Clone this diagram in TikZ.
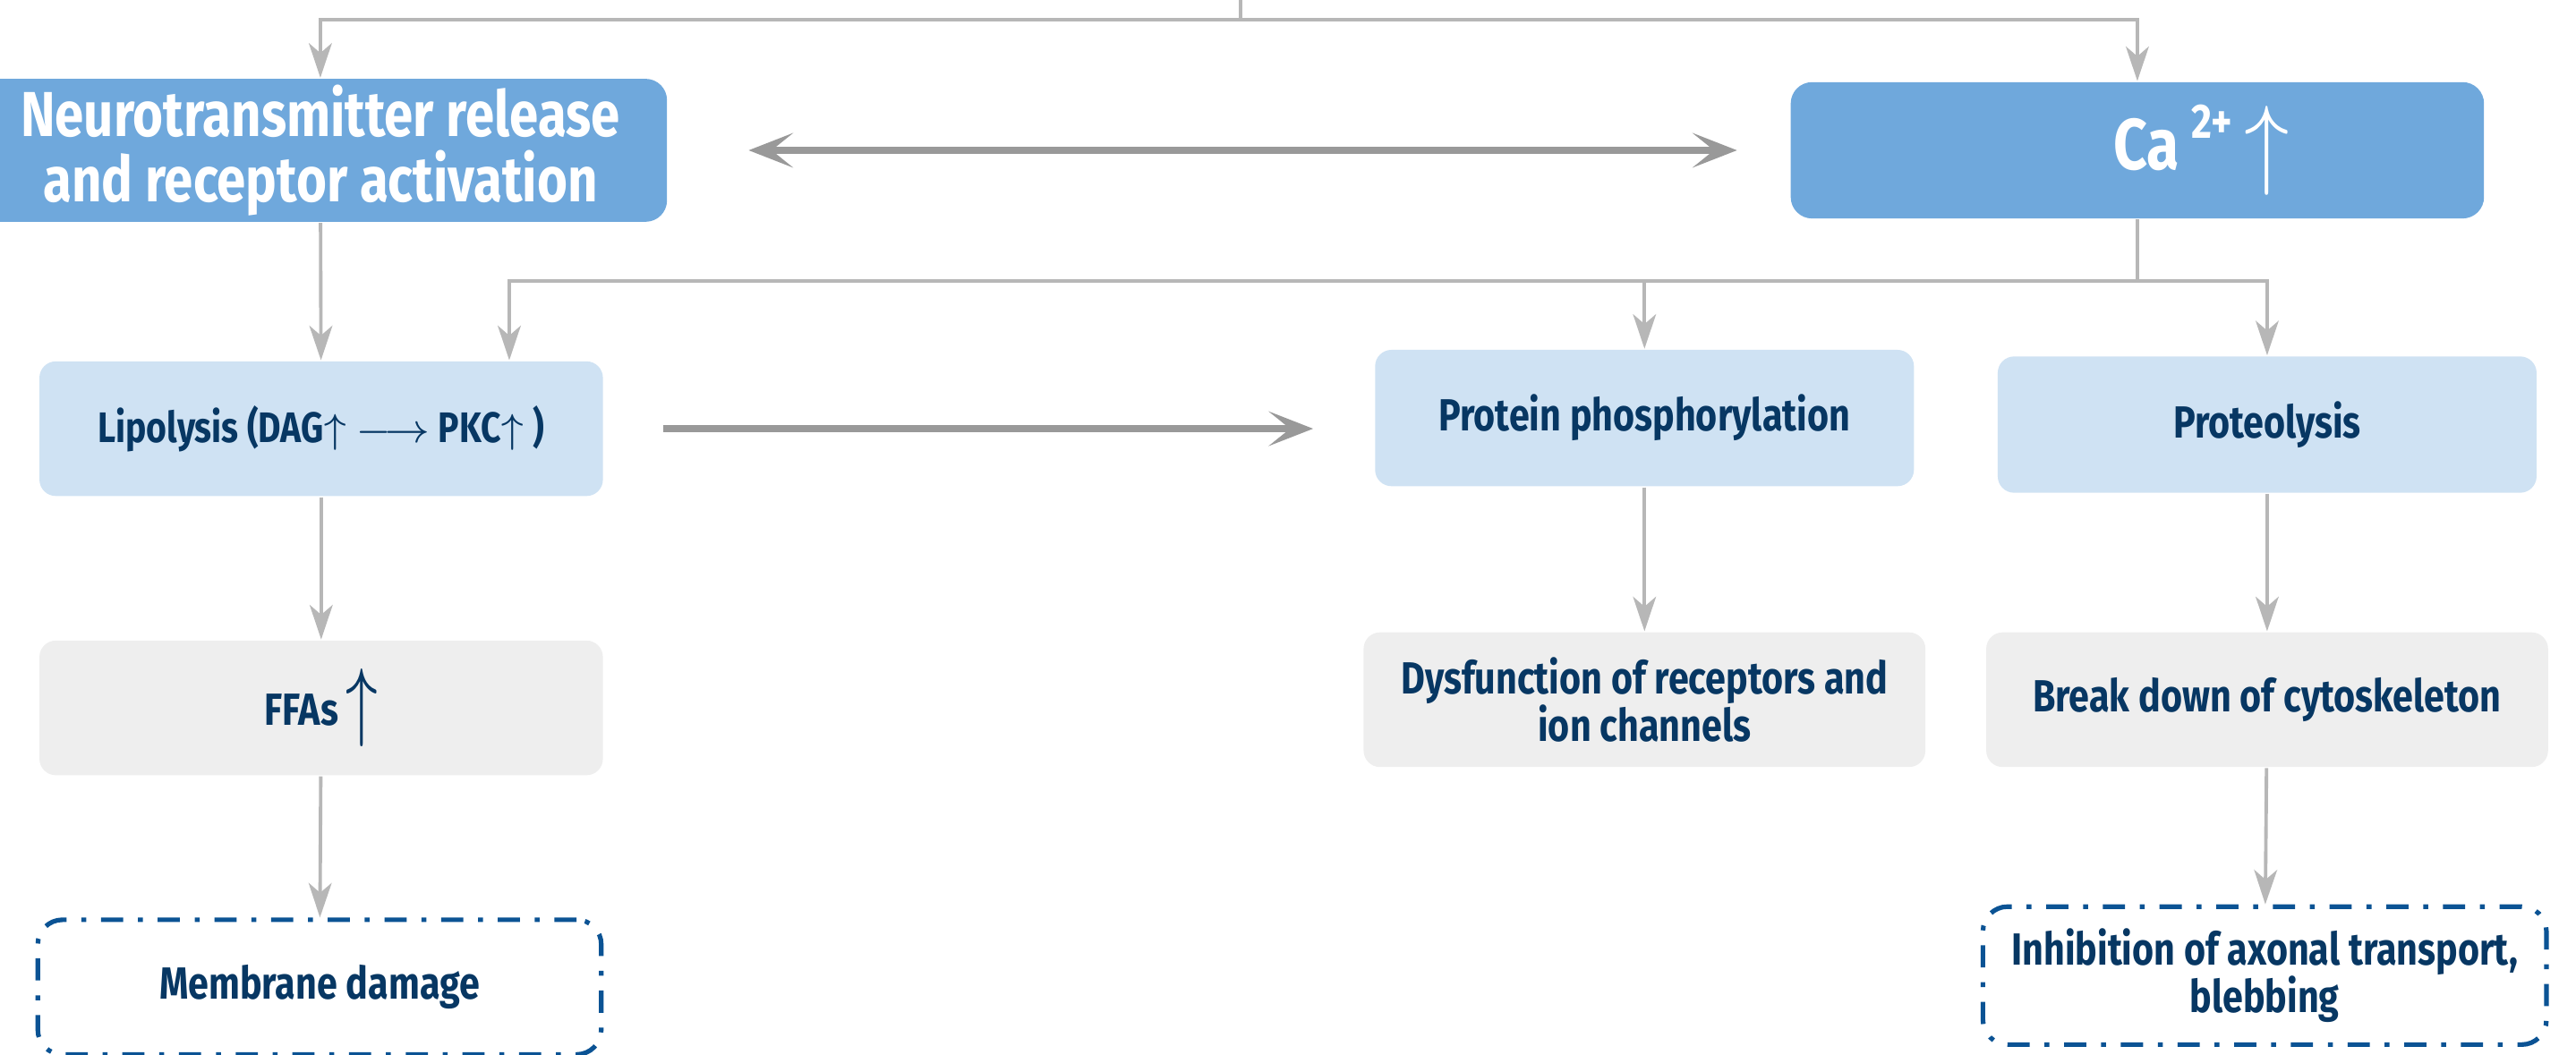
\documentclass[tikz,border=0pt]{standalone}
\usepackage{fontspec}
\setmainfont{Fira Sans}[FakeStretch=0.82]
\usepackage{xcolor}
\usetikzlibrary{arrows.meta}

\definecolor{mainblue}{HTML}{6FA8DC}
\definecolor{paleblue}{HTML}{CFE2F3}
\definecolor{palegrey}{HTML}{EEEEEE}
\definecolor{navy}{HTML}{073763}
\definecolor{edgeblue}{HTML}{0B5394}
\definecolor{linegrey}{HTML}{B7B7B7}
\definecolor{arrowgrey}{HTML}{999999}

\begin{document}
\begin{tikzpicture}[x=0.1mm, y=-0.1mm,
    box/.style={rectangle, rounded corners=1mm, align=center, inner sep=1pt, text=navy, font=\bfseries\fontsize{7.8}{8.2}\selectfont, minimum width=34.3mm, minimum height=8.2mm},
    mainbox/.style={box, fill=mainblue, text=white, rounded corners=1.3mm, minimum width=42.2mm, minimum height=8.3mm, font=\bfseries\fontsize{11}{11.4}\selectfont},
    causebox/.style={box, fill=paleblue},
    effectbox/.style={box, fill=palegrey},
    damagebox/.style={box, draw=edgeblue, line width=0.8pt, rounded corners=1.5mm, dash pattern=on 1.35mm off 0.9mm on 0.3mm off 0.9mm},
    arrow/.style={-{Stealth[length=2.1mm, width=1.4mm, inset=0.6mm]}, draw=linegrey, line width=0.6pt},
    bigarrow/.style={{Stealth[length=2.7mm, width=2.1mm, inset=1.3mm]}-{Stealth[length=2.7mm, width=2.1mm, inset=1.3mm]}, draw=arrowgrey, line width=1.2pt}
]
    \useasboundingbox (0,0) rectangle (1568,642);

    % Top layer
    \node[mainbox] (neuro) at (195, 91.5) {Neurotransmitter release\\and receptor activation};
    \node[mainbox, font=\bfseries\fontsize{12.5}{14}\selectfont] (ca) at (1301, 91.5) {\hspace*{7.8mm}Ca\,\raisebox{1.9mm}{\fontsize{8.4}{9}\selectfont 2+}\,\raisebox{-0.4mm}{\scalebox{1.3}[1.45]{$\uparrow$}}};

    % Second layer
    \node[causebox, font=\bfseries\fontsize{7.4}{8}\selectfont] (lipo) at (195.5, 261) {Lipolysis (DAG$\uparrow$ $\longrightarrow$ PKC$\uparrow$ )};
    \node[causebox, minimum width=32.8mm, minimum height=8.3mm] (phos) at (1001, 254.5) {Protein phosphorylation};
    \node[causebox, minimum width=32.8mm, minimum height=8.3mm] (prot) at (1380, 258.5) {Proteolysis};

    % Third layer
    \node[effectbox] (ffa) at (195.5, 431) {FFAs\,\raisebox{-0.3mm}{\scalebox{1.3}[1.9]{$\uparrow$}}};
    \node[effectbox, minimum width=34.2mm] (dysf) at (1001, 426) {Dysfunction of receptors and\\ion channels};
    \node[effectbox, minimum width=34.2mm] (cyto) at (1380, 426) {Break down of cytoskeleton};

    % Outcomes
    \node[damagebox] (memb) at (194.5, 601) {Membrane damage};
    \node[damagebox, minimum height=8.4mm] (axon) at (1378.5, 594) {Inhibition of axonal transport,\\blebbing};

    % Arrows
    \coordinate (top) at (755, -5);
    \coordinate (split) at (755, 12);
    \draw[draw=linegrey, line width=0.6pt] (top) -- (split);
    \draw[arrow] (split) -| (neuro);
    \draw[arrow] (split) -| (ca);
    \draw[bigarrow, shorten <=4.9mm, shorten >=3.2mm] (neuro) -- (ca);

    \coordinate (branch) at (1301, 171);
    \draw[draw=linegrey, line width=0.6pt] (ca) -- (branch);
    \draw[arrow] (branch) -| ([xshift=11.45mm]lipo.north);
    \draw[arrow] (branch) -| (phos);
    \draw[arrow] (branch) -| (prot);

    \draw[arrow] (neuro) -- (lipo);
    \draw[-{Stealth[length=2.7mm, width=2.1mm, inset=1.3mm]}, draw=arrowgrey, line width=1.2pt, shorten <=3.6mm, shorten >=3.7mm] (lipo.east) -- (lipo.east -| phos.west);
    \draw[arrow] (lipo) -- (ffa);
    \draw[arrow] (ffa) -- (memb);
    \draw[arrow] (phos) -- (dysf);
    \draw[arrow] (prot) -- (cyto);
    \draw[arrow] (cyto) -- (axon);
\end{tikzpicture}
\end{document}
